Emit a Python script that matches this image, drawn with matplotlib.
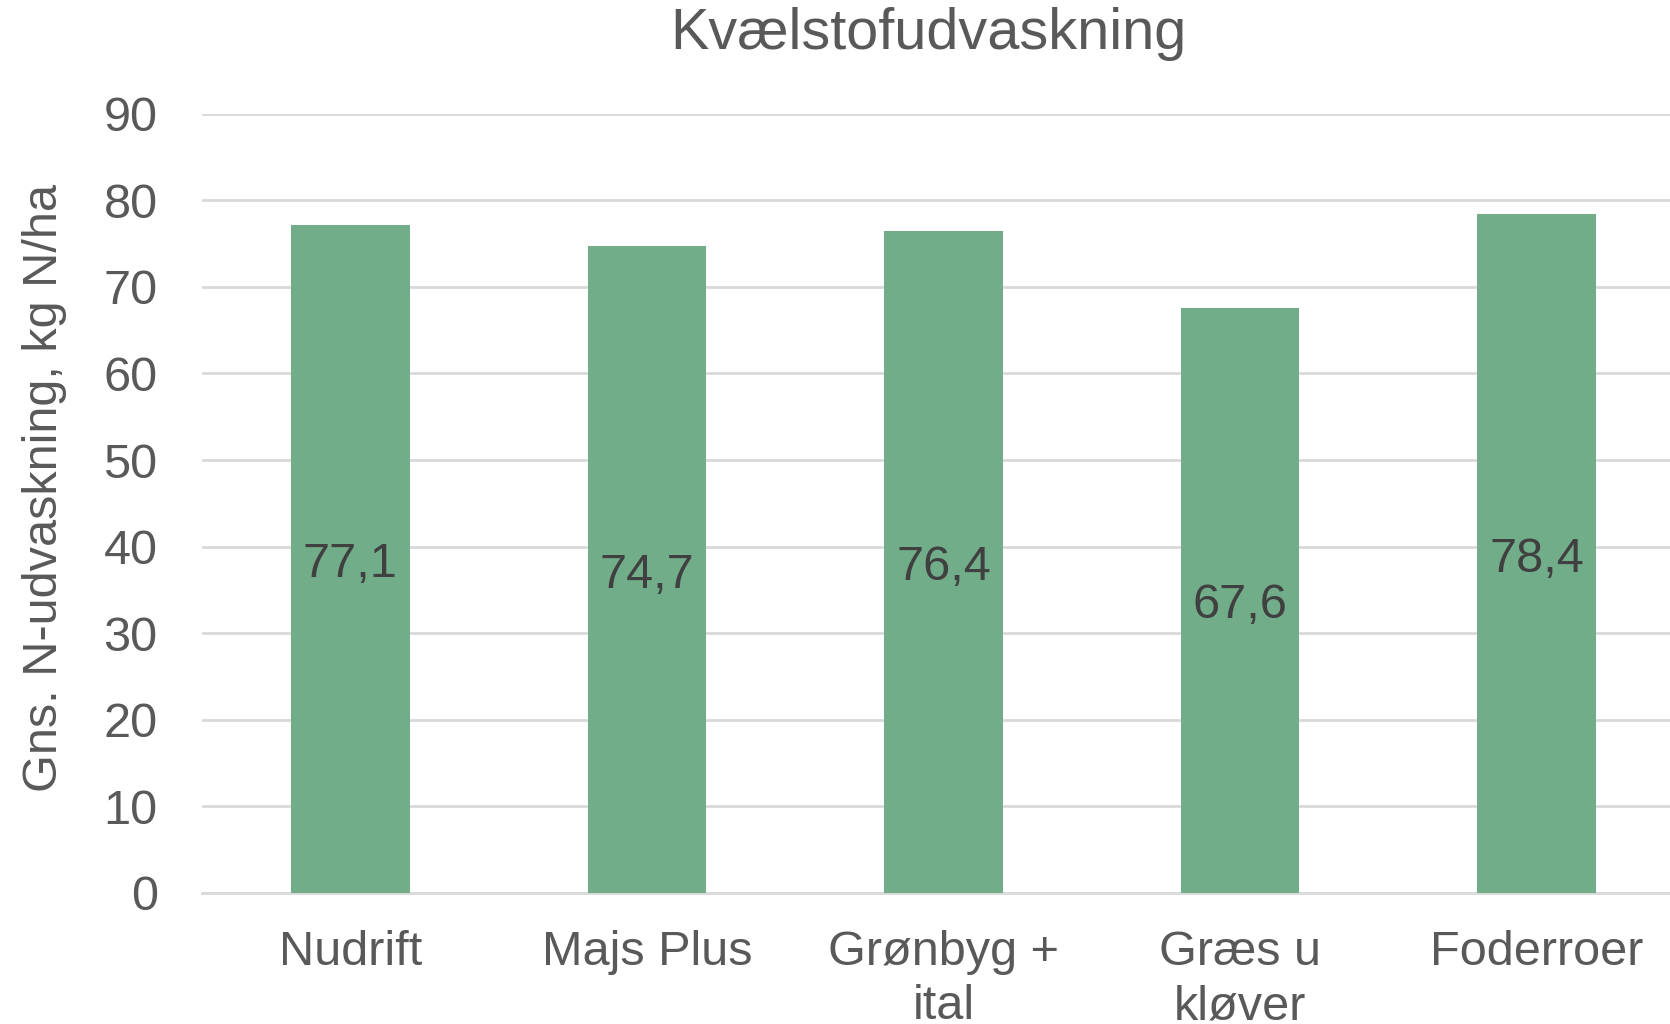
import matplotlib.pyplot as plt

plt.rcParams['font.family'] = ['Liberation Sans', 'DejaVu Sans']

categories = ["Nudrift", "Majs Plus", "Grønbyg +\nital", "Græs u\nkløver", "Foderroer"]
values = [77.1, 74.7, 76.4, 67.6, 78.4]
labels = ["77,1", "74,7", "76,4", "67,6", "78,4"]
yticks = [0, 10, 20, 30, 40, 50, 60, 70, 80, 90]

fig = plt.figure(figsize=(16.7, 10.24), dpi=100)
ax = fig.add_axes([0.121, 0.128, 0.888, 0.761])

x = range(len(categories))
bars = ax.bar(x, values, width=0.4, color='#70AD88', zorder=3)
for b, lab, v in zip(bars, labels, values):
    ax.annotate(lab, (b.get_x() + b.get_width() / 2, v / 2), xytext=(0, -4),
                textcoords='offset points', ha='center', va='center',
                fontsize=35, color='#404040', zorder=4)

ax.set_xlim(-0.5, 4.5)
ax.set_ylim(0, 90)
ax.set_yticks(yticks)
ax.set_xticks(list(x))
ax.set_xticklabels(categories, fontsize=35, color='#595959', linespacing=1.25)
ax.tick_params(axis='y', labelsize=35, labelcolor='#595959', length=0, pad=32)
ax.tick_params(axis='x', length=0, pad=27)
ax.grid(axis='y', color='#D9D9D9', linewidth=2, zorder=0)
for s in ['top', 'right', 'left']:
    ax.spines[s].set_visible(False)
ax.spines['bottom'].set_color('#D9D9D9')
ax.spines['bottom'].set_linewidth(2)

ax.set_ylabel("Gns. N-udvaskning, kg N/ha", fontsize=35, color='#595959')
ax.yaxis.set_label_coords(-0.091, 0.52)
fig.text(0.556, 0.967, "Kvælstofudvaskning", ha='center', va='center', fontsize=41.5, color='#595959')

fig.savefig("out.png", dpi=100)
